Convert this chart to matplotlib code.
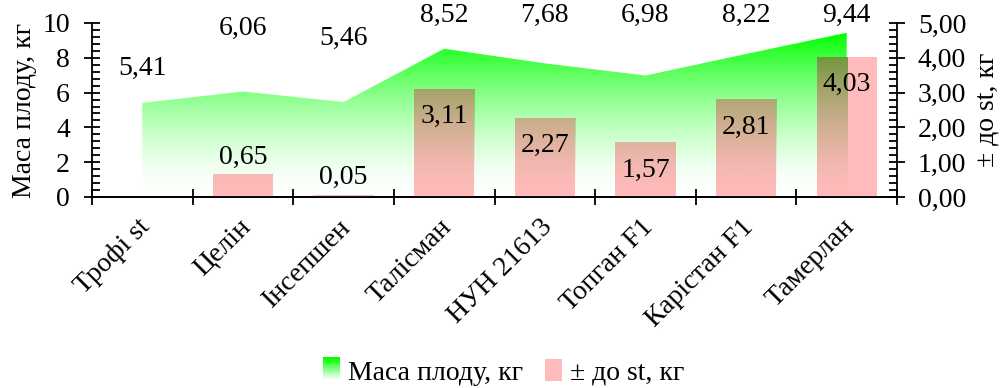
import numpy as np
import matplotlib.pyplot as plt
from matplotlib.patches import Polygon, Rectangle
from matplotlib.ticker import MultipleLocator, FuncFormatter
from matplotlib.legend_handler import HandlerBase

plt.rcParams['font.family'] = ['Liberation Serif', 'DejaVu Serif']
plt.rcParams['font.size'] = 20

cats = ['Трофі st', 'Целін', 'Інсепшен', 'Талісман', 'НУН 21613', 'Топган F1', 'Карістан F1', 'Тамерлан']
mass = [5.41, 6.06, 5.46, 8.52, 7.68, 6.98, 8.22, 9.44]
diff = [0, 0.65, 0.05, 3.11, 2.27, 1.57, 2.81, 4.03]
# heights of the mass labels (left axis units)
mass_lbl_y = [7.4, 9.7, 9.1, 10.45, 10.45, 10.45, 10.45, 10.45]

GREEN = np.array([0, 255, 0]) / 255
OLIVE = np.array([70, 141, 24]) / 255
PINK = '#ffbbbb'
GAMMA = 1.6


def ramp(n=256):
    return np.linspace(0, 1, n) ** GAMMA


fig = plt.figure(figsize=(10.08, 3.88), dpi=100)
ax = fig.add_axes([92 / 1008, 191 / 388, 805 / 1008, 174 / 388])
ax2 = ax.twinx()
x = np.arange(len(cats))
top = max(mass)

# green area with vertical gradient, green at top fading to clear
poly = Polygon(list(zip(x, mass)) + [(x[-1], 0), (x[0], 0)], closed=True,
               facecolor='none', edgecolor='none')
ax.add_patch(poly)
grad = np.zeros((256, 1, 4))
grad[:, 0, :3] = GREEN
grad[:, 0, 3] = ramp()
img = ax.imshow(grad, extent=[x[0], x[-1], 0, top], origin='lower',
                aspect='auto', interpolation='bilinear', zorder=1)
img.set_clip_path(poly)
ax.set_xlim(-0.5, len(cats) - 0.5)
ax.set_ylim(0, 10)

for xi, v, ly in zip(x, mass, mass_lbl_y):
    ax.text(xi, ly, f'{v:.2f}'.replace('.', ','), ha='center', va='center', clip_on=False)

# bars on the secondary axis (0..5 maps onto 0..10 of the left axis)
bw = 0.6
ax2.bar(x, diff, width=bw, color=PINK, zorder=2)
ax2.set_ylim(0, 5)

# darker tint where the bars sit over the green area
tint = np.zeros((256, 1, 4))
tint[:, 0, :3] = OLIVE
tint[:, 0, 3] = ramp()
for xi, v in zip(x, diff):
    if v <= 0:
        continue
    x0, x1 = max(xi - bw / 2, x[0]), min(xi + bw / 2, x[-1])
    clip = Rectangle((x0, 0), x1 - x0, v, transform=ax2.transData)
    im = ax2.imshow(tint, extent=[x[0], x[-1], 0, top / 2], origin='lower',
                    aspect='auto', interpolation='bilinear', zorder=3)
    im.set_clip_path(clip)
ax2.set_xlim(-0.5, len(cats) - 0.5)
ax2.set_ylim(0, 5)

for xi, v in zip(x, diff):
    if v == 0:
        continue
    ly = v - 0.8 if v > 1 else v + 0.5
    ax2.text(xi, ly, f'{v:.2f}'.replace('.', ','), ha='center', va='center', zorder=4)

ax.set_zorder(ax2.get_zorder() - 1)
ax2.patch.set_visible(False)

for a in (ax, ax2):
    a.spines['top'].set_visible(False)
    for s in ('left', 'right', 'bottom'):
        a.spines[s].set_linewidth(1.3)
ax.spines['right'].set_visible(False)
ax2.spines['left'].set_visible(False)

ax.yaxis.set_major_locator(MultipleLocator(2))
ax.yaxis.set_minor_locator(MultipleLocator(0.4))
ax.tick_params(axis='y', which='major', direction='inout', length=12, width=1.3, labelsize=20, pad=10)
ax.tick_params(axis='y', which='minor', direction='in', length=6, width=1.3)
ax2.yaxis.set_major_locator(MultipleLocator(1))
ax2.yaxis.set_minor_locator(MultipleLocator(0.2))
ax2.yaxis.set_major_formatter(FuncFormatter(lambda v, p: f'{v:.2f}'.replace('.', ',')))
ax2.tick_params(axis='y', which='major', direction='inout', length=12, width=1.3, labelsize=20, pad=9)
ax2.tick_params(axis='y', which='minor', direction='in', length=6, width=1.3)

ax.set_xticks(np.arange(len(cats) + 1) - 0.5)
ax.set_xticklabels([])
ax.tick_params(axis='x', which='major', direction='inout', length=12, width=1.3)
for xi, c in zip(x, cats):
    ax.text(xi - 0.05, -1.0, c, rotation=45, ha='right', va='top',
            rotation_mode='anchor', clip_on=False)

ax.set_ylabel('Маса плоду, кг', labelpad=4)
ax2.set_ylabel('± до st, кг', labelpad=6)


class GradHandler(HandlerBase):
    def create_artists(self, legend, orig, xd, yd, w, h, fs, trans):
        n = 12
        arts = []
        for i in range(n):
            a = 1 - i / n
            arts.append(Rectangle((xd, yd + h - (i + 1) * h / n), w, h / n,
                                  facecolor=GREEN, alpha=a, edgecolor='none', transform=trans))
        return arts


green_h = Rectangle((0, 0), 1, 1)
pink_h = Rectangle((0, 0), 1, 1, facecolor=PINK, edgecolor='none')
fig.legend([green_h, pink_h], ['Маса плоду, кг', '± до st, кг'],
           handler_map={green_h: GradHandler()}, loc='center', bbox_to_anchor=(0.5, 0.04),
           ncol=2, frameon=False, handlelength=0.6, handleheight=0.8,
           handletextpad=0.3, columnspacing=0.8)

fig.savefig('out.png', dpi=100)
